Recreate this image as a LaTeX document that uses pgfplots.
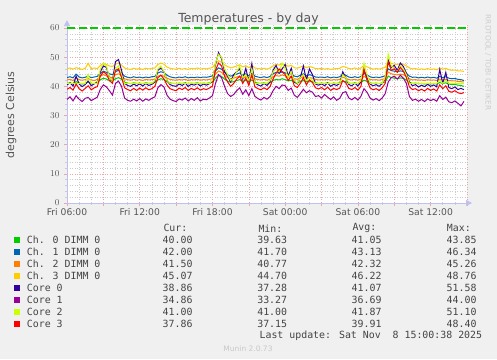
\documentclass[border=0pt]{standalone}
\usepackage{fontspec}
\setmainfont{DejaVu Sans}
\newfontfamily\monofont{DejaVu Sans Mono}
\usepackage{pgfplots}
\usepackage{pgfplotstable}
\pgfplotsset{compat=1.18}
\usetikzlibrary{arrows.meta}

\definecolor{bgc}{HTML}{F0F0F0}
\definecolor{txt}{HTML}{555555}
\definecolor{legtxt}{HTML}{444444}
\definecolor{axcol}{HTML}{C0C0F0}
\definecolor{mgrid}{HTML}{E6A8A8}
\definecolor{ngrid}{HTML}{CCCCCC}
\definecolor{sA}{HTML}{00CC00}
\definecolor{sB}{HTML}{0066B3}
\definecolor{sC}{HTML}{FF8000}
\definecolor{sD}{HTML}{FFCC00}
\definecolor{sE}{HTML}{330099}
\definecolor{sF}{HTML}{990099}
\definecolor{sG}{HTML}{CCFF00}
\definecolor{sH}{HTML}{FF0000}

\pgfplotstableread{
t c0 c1 c2 c3 k0 k1 k2 k3
6.00 41.0 43.0 42.2 46.0 40.5 35.5 41 39.0
6.25 41.2 43.3 42.4 46.3 41.2 36.4 41 39.6
6.50 40.9 42.9 42.0 45.9 40.1 35.0 41 38.7
6.75 41.6 44.2 42.9 46.4 43.5 36.8 41 40.8
7.00 41.1 43.2 42.3 46.1 40.8 35.6 41 39.2
7.25 40.8 42.9 42.1 45.8 39.9 34.8 41 38.4
7.50 41.0 43.1 42.3 46.2 40.6 35.9 41 39.3
7.75 41.5 43.5 42.6 47.9 41.8 36.2 44 40.2
8.00 41.0 43.0 42.2 46.0 40.2 35.1 41 38.8
8.25 40.9 43.2 42.0 46.3 40.9 35.7 41 39.5
8.50 41.2 43.4 42.4 46.1 41.5 36.3 41 39.9
8.75 42.3 44.5 43.5 47.2 45.0 39.0 46 43.5
9.00 42.8 45.2 44.0 47.8 47.0 40.5 48 45.0
9.25 42.5 44.8 43.6 47.5 46.5 39.8 47 44.2
9.50 42.0 44.3 43.2 47.0 43.0 38.5 43 42.0
9.75 41.8 44.0 43.0 46.8 42.0 37.0 42 41.0
10.00 42.6 45.0 44.0 47.6 48.5 41.0 46 45.5
10.25 43.0 45.5 44.3 48.0 49.2 41.8 47 46.0
10.50 42.4 44.6 43.6 47.3 45.5 40.0 44 43.0
10.75 41.4 43.5 42.6 46.3 41.0 36.0 41 39.5
11.00 41.1 43.1 42.3 46.0 40.3 35.2 41 38.9
11.25 40.9 42.9 42.1 45.8 40.0 34.9 41 38.5
11.50 41.2 43.3 42.4 46.2 40.8 35.6 41 39.3
11.75 41.0 43.0 42.1 45.9 40.2 35.0 41 38.6
12.00 41.1 43.2 42.3 46.1 40.9 35.8 41 39.4
12.25 40.9 42.9 42.0 45.8 40.1 34.9 41 38.7
12.50 41.2 43.2 42.4 46.2 41.0 35.7 41 39.5
12.75 41.0 43.0 42.2 46.0 40.3 35.2 41 38.8
13.00 41.1 43.3 42.3 46.1 40.7 35.9 41 39.2
13.25 41.3 43.4 42.5 46.3 41.6 36.4 42 40.0
13.50 42.2 44.6 43.5 47.5 45.5 39.5 46 43.0
13.75 42.6 45.0 43.8 48.0 46.3 40.6 47 43.8
14.00 42.3 44.7 43.5 47.6 45.0 39.8 45 42.5
14.25 41.6 43.8 42.8 46.6 42.0 37.0 42 40.5
14.50 41.2 43.3 42.4 46.2 40.6 35.6 41 39.2
14.75 41.0 43.0 42.2 46.0 40.2 35.1 41 38.8
15.00 40.9 42.9 42.1 45.9 40.0 34.8 41 38.5
15.25 41.1 43.2 42.3 46.2 40.8 35.7 41 39.4
15.50 41.0 43.0 42.2 45.9 40.3 35.3 41 38.9
15.75 41.2 43.3 42.4 46.1 41.1 36.0 41 39.6
16.00 40.9 42.9 42.0 45.8 40.0 35.0 41 38.6
16.25 41.1 43.1 42.3 46.2 40.7 35.8 41 39.3
16.50 41.0 43.0 42.2 46.0 40.4 35.2 41 38.8
16.75 41.2 43.2 42.4 46.3 41.0 36.1 41 39.5
17.00 40.9 43.0 42.1 45.9 40.1 35.0 41 38.7
17.25 41.1 43.2 42.3 46.1 40.8 35.6 41 39.2
17.50 41.0 43.1 42.2 46.0 40.4 35.4 41 38.9
17.75 41.2 43.3 42.4 46.2 40.9 36.0 41 39.4
18.00 41.4 43.6 42.6 46.5 41.8 36.8 42 40.1
18.25 42.8 45.3 44.2 47.8 47.5 41.0 48 45.5
18.50 43.85 46.34 45.26 48.76 51.58 44.0 51 48.0
18.75 43.4 45.9 44.8 48.3 49.5 43.0 50 47.0
19.00 42.5 44.8 43.8 47.4 45.0 40.0 46 43.5
19.25 41.8 44.0 43.0 46.8 43.5 37.5 44 41.5
19.50 41.4 43.5 42.6 46.3 41.5 36.5 42 40.0
19.75 41.6 43.8 42.8 46.6 44.0 37.2 43 41.0
20.00 42.0 44.2 43.2 47.0 45.0 38.5 45 42.5
20.25 42.3 44.6 43.5 47.4 46.0 39.5 47 43.5
20.50 41.7 43.8 42.9 46.7 42.5 37.3 43 41.0
20.75 42.1 44.3 43.3 47.1 46.2 38.8 44 42.8
21.00 41.5 43.6 42.7 46.4 41.8 36.8 42 40.3
21.25 42.2 44.5 43.4 47.2 47.8 39.2 46 44.0
21.50 41.4 43.5 42.6 46.3 41.2 36.6 41 39.8
21.75 41.1 43.2 42.3 46.1 40.5 35.8 41 39.2
22.00 41.0 43.0 42.2 46.0 40.1 35.3 41 38.8
22.25 41.2 43.3 42.4 46.2 41.0 36.2 41 39.5
22.50 40.9 43.0 42.1 45.9 40.3 35.6 41 38.9
22.75 41.3 43.4 42.5 46.3 41.5 36.5 42 39.9
23.00 42.0 44.3 43.3 47.0 45.5 38.5 45 42.5
23.25 42.4 44.8 43.7 47.5 47.2 40.0 46 44.5
23.50 42.2 44.5 43.5 47.3 44.5 39.2 45 46.0
23.75 42.6 45.0 43.9 47.8 46.0 40.5 48 45.0
24.00 42.3 44.6 43.6 47.4 47.5 40.2 46 44.0
24.25 41.9 44.1 43.1 46.9 43.5 38.6 43 42.0
24.50 42.1 44.4 43.4 47.2 46.2 39.4 45 43.5
24.75 41.4 43.5 42.6 46.4 41.5 37.0 42 40.2
25.00 41.2 43.3 42.4 46.2 40.8 36.2 41 39.6
25.25 41.6 43.8 42.9 46.6 43.0 37.5 43 41.0
25.50 42.0 44.3 43.3 47.0 47.0 39.0 44 43.0
25.75 41.5 43.6 42.7 46.4 42.2 37.8 42 40.5
26.00 41.8 44.0 43.0 46.8 46.0 38.5 43 42.2
26.25 41.6 43.7 42.8 46.5 44.0 38.0 42 41.3
26.50 41.2 43.2 42.4 46.1 40.8 36.5 41 39.5
26.75 41.0 43.1 42.2 46.0 40.4 36.8 41 39.1
27.00 41.1 43.2 42.3 46.2 40.9 36.0 41 39.6
27.25 41.0 43.0 42.2 45.9 40.2 37.2 41 38.8
27.50 41.2 43.3 42.4 46.1 41.2 36.3 41 39.7
27.75 40.9 42.9 42.1 45.8 40.0 35.5 41 38.6
28.00 41.1 43.2 42.3 46.0 40.7 36.4 41 39.3
28.25 41.0 43.0 42.2 46.1 40.3 35.2 41 38.9
28.50 41.2 43.3 42.4 46.2 41.0 35.9 41 39.4
28.75 41.8 44.1 43.1 46.8 45.0 37.8 44 42.0
29.00 41.6 43.8 42.8 46.6 43.0 38.2 43 41.2
29.25 41.1 43.2 42.3 46.1 40.6 36.0 41 39.3
29.50 41.0 43.0 42.2 46.0 40.2 35.4 41 38.9
29.75 41.2 43.3 42.4 46.3 41.1 36.2 41 39.6
30.00 40.9 43.0 42.1 45.9 40.1 35.3 41 38.7
30.25 41.3 43.4 42.5 46.3 41.6 36.6 42 40.0
30.50 42.1 44.4 43.4 47.2 45.5 39.2 48 46.0
30.75 41.7 43.9 42.9 46.7 43.0 38.0 44 42.0
31.00 41.2 43.3 42.4 46.2 40.8 36.0 41 39.5
31.25 41.0 43.0 42.2 45.9 40.2 35.3 41 38.8
31.50 41.1 43.2 42.3 46.1 40.6 35.8 41 39.2
31.75 40.9 43.0 42.1 45.9 40.0 35.1 41 38.6
32.00 41.2 43.3 42.4 46.2 41.0 36.0 41 39.5
32.25 41.5 43.6 42.7 46.5 42.5 37.5 43 41.0
32.50 43.5 46.0 44.9 48.5 49.0 41.5 51.1 48.4
32.75 43.0 45.4 44.3 47.9 46.5 43.0 47 45.5
33.00 42.8 45.2 44.1 47.6 47.2 43.5 46 46.0
33.25 42.6 45.0 43.9 47.5 45.5 42.5 45 44.8
33.50 42.9 45.3 44.2 47.8 48.0 43.8 47 46.5
33.75 42.7 45.1 44.0 47.6 46.8 42.8 46 45.2
34.00 42.2 44.5 43.5 47.0 44.5 41.0 44 43.0
34.25 41.4 43.5 42.6 46.3 41.5 36.5 41 39.8
34.50 41.0 43.1 42.2 46.0 40.2 35.2 41 38.9
34.75 41.1 43.2 42.3 46.1 40.6 35.6 41 39.2
35.00 40.9 42.9 42.1 45.8 39.8 34.9 41 38.5
35.25 41.0 43.1 42.2 46.0 40.4 35.5 41 39.0
35.50 40.8 42.9 42.0 45.8 39.9 34.8 41 38.4
35.75 41.0 43.2 42.3 46.1 40.7 35.7 41 39.3
36.00 40.8 42.9 42.1 45.8 40.0 35.1 41 38.6
36.25 41.0 43.1 42.2 46.0 40.5 35.6 41 39.1
36.50 40.8 42.8 42.0 45.7 39.8 34.9 41 38.4
36.75 41.3 43.4 42.5 46.3 45.8 36.8 42 40.5
37.00 41.0 43.0 42.2 45.9 41.0 35.5 41 39.2
37.25 41.2 43.3 42.4 46.2 44.8 36.3 42 40.2
37.50 40.8 42.8 42.0 45.7 39.6 34.7 41 38.3
37.75 40.6 42.6 41.9 45.5 39.2 34.4 41 38.0
38.00 40.7 42.7 41.9 45.6 39.8 35.0 41 38.5
38.25 40.4 42.4 41.7 45.3 38.9 34.2 41 37.8
38.50 40.3 42.3 41.6 45.3 39.3 33.3 41 37.5
38.75 40.0 42.0 41.5 45.07 38.86 34.86 41 37.86
}\temps

\begin{document}
\begin{tikzpicture}[x=1pt,y=1pt]
\fill[bgc] (0,0) rectangle (497,359);
\useasboundingbox (0,0) rectangle (497,359);
\begin{axis}[
  at={(67pt,156pt)}, anchor=south west,
  scale only axis, width=400pt, height=177.9pt,
  xmin=6, xmax=39, ymin=0, ymax=61,
  axis background/.style={fill=white},
  axis lines=left,
  axis line style={draw=axcol, line width=0.8pt, shorten >=-5pt, -{Triangle[length=6pt,width=6pt]}},
  xtick={6,9,...,39},
  xticklabels={Fri 06:00,,Fri 12:00,,Fri 18:00,,Sat 00:00,,Sat 06:00,,Sat 12:00,,},
  minor x tick num=2,
  ytick={0,10,...,60},
  minor y tick num=4,
  grid=both,
  major grid style={draw=mgrid, line width=0.6pt, dash pattern=on 1pt off 1.5pt},
  minor grid style={draw=ngrid, line width=0.6pt, dash pattern=on 1pt off 1.5pt},
  tick align=outside,
  major tick length=3pt, minor tick length=2pt,
  every major tick/.style={draw=mgrid, line width=0.6pt},
  every minor tick/.style={draw=ngrid, line width=0.6pt},
  tick label style={font=\fontsize{9.2}{10}\selectfont, text=txt},
  xticklabel style={yshift=1pt},
  yticklabel style={xshift=-1pt},
  clip=true,
  every axis plot/.append style={line width=1pt, mark=none},
]
\addplot[sA] table[x=t,y=c0]{\temps};
\addplot[sB] table[x=t,y=c1]{\temps};
\addplot[sC] table[x=t,y=c2]{\temps};
\addplot[sD] table[x=t,y=c3]{\temps};
\addplot[sE] table[x=t,y=k0]{\temps};
\addplot[sF] table[x=t,y=k1]{\temps};
\addplot[sG] table[x=t,y=k2]{\temps};
\addplot[sH] table[x=t,y=k3]{\temps};
\addplot[sA, line width=1.2pt, dash pattern=on 8pt off 3.5pt] coordinates {(6,60) (39,60)};
\end{axis}
% title and labels
\node[text=txt, font=\fontsize{12.5}{14}\selectfont] at (248.5,340) {Temperatures - by day};
\node[text=txt, rotate=90, font=\fontsize{11}{13}\selectfont] at (11,244.3) {degrees Celsius};
\node[text={rgb,255:red,205;green,205;blue,205}, rotate=-90, font=\fontsize{7.4}{9}\selectfont] at (488,296.5) {RRDTOOL / TOBI OETIKER};
% legend
\begin{scope}[every node/.style={text=legtxt, font=\monofont\fontsize{9.9}{11}\selectfont, inner sep=0pt}]
\node[anchor=west] at (163.3,130.7) {Cur:};
\node[anchor=west] at (258.3,130.7) {Min:};
\node[anchor=west] at (352.3,130.7) {Avg:};
\node[anchor=west] at (446.7,130.7) {Max:};
\foreach \lab/\col/\cur/\mn/\av/\mx [count=\i] in {
  Ch. 0 DIMM 0/sA/40.00/39.63/41.05/43.85,
  Ch. 1 DIMM 0/sB/42.00/41.70/43.13/46.34,
  Ch. 2 DIMM 0/sC/41.50/40.77/42.32/45.26,
  Ch. 3 DIMM 0/sD/45.07/44.70/46.22/48.76,
  Core 0/sE/38.86/37.28/41.07/51.58,
  Core 1/sF/34.86/33.27/36.69/44.00,
  Core 2/sG/41.00/41.00/41.87/51.10,
  Core 3/sH/37.86/37.15/39.91/48.40}{
  \pgfmathsetmacro{\yy}{359-239.7-12*(\i-1)}
  \fill[\col] (14,\yy-2.8) rectangle (19.6,\yy+2.8);
  \node[anchor=west] at (26.7,\yy) {\lab};
  \node[anchor=east] at (192.7,\yy) {\cur};
  \node[anchor=east] at (287.3,\yy) {\mn};
  \node[anchor=east] at (381.7,\yy) {\av};
  \node[anchor=east] at (476.7,\yy) {\mx};
}
\node[anchor=east] at (482.3,23.3) {Last update: Sat Nov~~8 15:00:38 2025};
\end{scope}
\node[text={rgb,255:red,200;green,200;blue,200}, font=\fontsize{7.5}{9}\selectfont] at (248,10.7) {Munin 2.0.73};
\end{tikzpicture}
\end{document}
